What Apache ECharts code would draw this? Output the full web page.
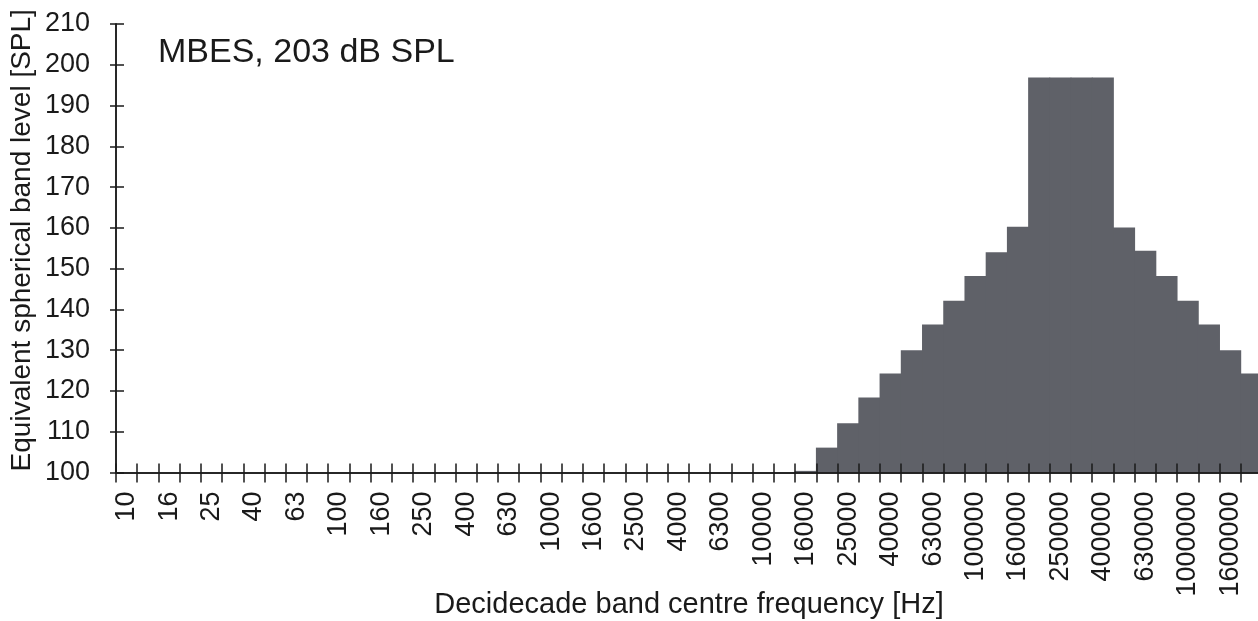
<!DOCTYPE html>
<html>
<head>
<meta charset="utf-8">
<script src="https://cdn.jsdelivr.net/npm/echarts@6/dist/echarts.min.js"></script>
<style>
  html, body { margin: 0; padding: 0; background: #fff; }
  #chart { width: 1258px; height: 621px; }
</style>
</head>
<body>
<div id="chart"></div>
<script>
  // Decidecade band centre frequencies [Hz]
  const frequencies = [
    '10', '12.5', '16', '20', '25', '31.5', '40', '50', '63', '80',
    '100', '125', '160', '200', '250', '315', '400', '500', '630', '800',
    '1000', '1250', '1600', '2000', '2500', '3150', '4000', '5000', '6300', '8000',
    '10000', '12500', '16000', '20000', '25000', '31500', '40000', '50000', '63000', '80000',
    '100000', '125000', '160000', '200000', '250000', '315000', '400000', '500000', '630000', '800000',
    '1000000', '1250000', '1600000', '2000000'
  ];

  // Equivalent spherical band level [SPL], '-' = below the axis floor
  const levels = [
    '-', '-', '-', '-', '-', '-', '-', '-', '-', '-',
    '-', '-', '-', '-', '-', '-', '-', '-', '-', '-',
    '-', '-', '-', '-', '-', '-', '-', '-', '-', '-',
    '-', '-', 100.4, 106.1, 112.1, 118.4, 124.3, 130.0, 136.3, 142.1,
    148.2, 154.0, 160.3, 196.9, 196.9, 196.9, 196.9, 160.1, 154.4, 148.2,
    142.1, 136.3, 130.0, 124.3
  ];

  const yTicks = { min: 100, max: 210, step: 10 };
  const titleText = 'MBES, 203 dB SPL';

  const font = '"Liberation Sans", Arial, sans-serif';
  const ink = '#1a1a1a';
  const barColor = '#5f6168';

  const chart = echarts.init(document.getElementById('chart'), null, { renderer: 'canvas' });

  // same plot rect twice: grid 0 carries outside ticks + labels, grid 1 the inside ticks
  const rect = { left: 116, top: 24, width: 1146, height: 448.5, outerBoundsMode: 'none', containLabel: false };

  function xAxisFor(gridIndex, inside) {
    const ax = {
      type: 'category',
      gridIndex: gridIndex,
      data: frequencies,
      position: 'bottom',
      boundaryGap: true,
      z: 5,
      axisLine: { show: true, lineStyle: { color: ink, width: 1.5 } },
      axisTick: { show: true, inside: inside, length: inside ? 9 : 10, interval: 0, lineStyle: { color: ink, width: 1.5 } },
      splitLine: { show: false },
      axisLabel: { show: false }
    };
    if (!inside) {
      ax.name = 'Decidecade band centre frequency [Hz]';
      ax.nameLocation = 'middle';
      ax.nameMoveOverlap = false;
      ax.nameGap = 118;
      ax.nameTextStyle = { fontFamily: font, fontSize: 29, color: ink };
      ax.axisLabel = { show: true, interval: 1, rotate: 90, margin: 19, fontFamily: font, fontSize: 27, color: ink };
    }
    return ax;
  }

  function yAxisFor(gridIndex, inside) {
    const ax = {
      type: 'value',
      gridIndex: gridIndex,
      position: 'left',
      min: yTicks.min,
      max: yTicks.max,
      interval: yTicks.step,
      z: 5,
      axisLine: { show: true, lineStyle: { color: ink, width: 1.5 } },
      axisTick: { show: true, inside: inside, length: inside ? 8 : 6, lineStyle: { color: ink, width: 1.5 } },
      splitLine: { show: false },
      axisLabel: { show: false }
    };
    if (!inside) {
      ax.name = 'Equivalent spherical band level [SPL]';
      ax.nameLocation = 'middle';
      ax.nameMoveOverlap = false;
      ax.nameGap = 80;
      ax.nameTextStyle = { fontFamily: font, fontSize: 28, color: ink, padding: [0, 0, 0, 16] };
      ax.axisLabel = { show: true, margin: 26, fontFamily: font, fontSize: 27, color: ink };
    }
    return ax;
  }

  chart.setOption({
    animation: false,
    backgroundColor: '#fff',
    title: {
      text: titleText,
      left: 153,
      top: 31,
      textStyle: { fontFamily: font, fontSize: 34, fontWeight: 'normal', color: ink }
    },
    grid: [Object.assign({}, rect), Object.assign({}, rect)],
    xAxis: [xAxisFor(0, false), xAxisFor(1, true)],
    yAxis: [yAxisFor(0, false), yAxisFor(1, true)],
    series: [{
      type: 'bar',
      xAxisIndex: 0,
      yAxisIndex: 0,
      data: levels,
      barCategoryGap: '0%',
      barWidth: '104%',
      itemStyle: { color: barColor },
      z: 2
    }]
  });
</script>
</body>
</html>
